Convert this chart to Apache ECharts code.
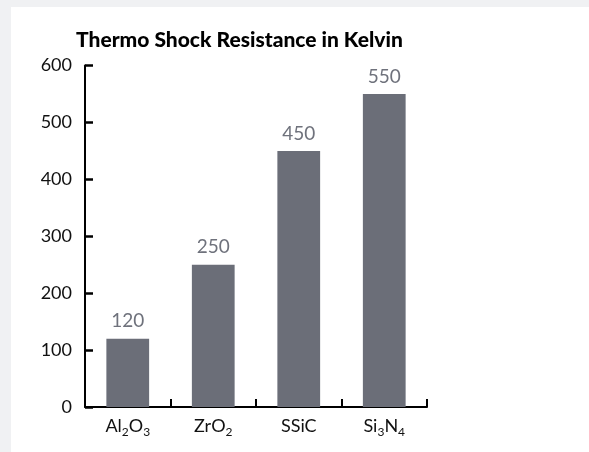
<!DOCTYPE html>
<html>
<head>
<meta charset="utf-8">
<script src="https://cdn.jsdelivr.net/npm/echarts@6/dist/echarts.min.js"></script>
<style>
  html, body { margin: 0; padding: 0; background: #f0f1f3; }
  #panel { position: absolute; left: 11px; top: 7px; width: 578px; height: 445px; background: #ffffff; }
  #chart { position: absolute; left: 0; top: 0; width: 589px; height: 452px; }
</style>
</head>
<body>
<div id="panel"></div>
<div id="chart"></div>
<script>
const titleText = 'Thermo Shock Resistance in Kelvin';
const categories = ['{n|Al}{s|2}{n|O}{s|3}', '{n|ZrO}{s|2}', '{n|SSiC}', '{n|Si}{s|3}{n|N}{s|4}'];
const values = [120, 250, 450, 550];
const yTicks = { min: 0, max: 600, interval: 100 };

const FONT = 'Lato';
const chart = echarts.init(document.getElementById('chart'), null, { renderer: 'canvas' });
chart.setOption({
  backgroundColor: 'transparent',
  animation: false,
  title: {
    text: titleText,
    left: 76,
    top: 30,
    padding: 0,
    textStyle: { fontFamily: FONT, fontWeight: 900, fontSize: 21, color: '#000' }
  },
  grid: { left: 85, right: 162, top: 65.5, bottom: 45, containLabel: false },
  xAxis: {
    type: 'category',
    data: categories,
    axisLine: { lineStyle: { color: '#000', width: 2 } },
    axisTick: { show: true, inside: true, length: 8, interval: 0, lineStyle: { color: '#000', width: 2 } },
    axisLabel: {
      interval: 0,
      margin: 10,
      color: '#111',
      rich: {
        n: { fontFamily: FONT, fontSize: 18, lineHeight: 21, verticalAlign: 'top', color: '#111' },
        s: { fontFamily: FONT, fontSize: 12, lineHeight: 14, verticalAlign: 'top', padding: [9, 0, 0, 0], color: '#111' }
      }
    }
  },
  yAxis: {
    type: 'value',
    min: yTicks.min, max: yTicks.max, interval: yTicks.interval,
    axisLine: { show: true, lineStyle: { color: '#000', width: 2 } },
    axisTick: { show: true, inside: true, length: 8, lineStyle: { color: '#000', width: 2.5 } },
    splitLine: { show: false },
    axisLabel: { margin: 13, fontFamily: FONT, fontSize: 18, color: '#111' }
  },
  series: [{
    type: 'bar',
    data: values,
    barCategoryGap: '50%',
    itemStyle: { color: '#6b6e78' },
    label: {
      show: true, position: 'top', distance: 8,
      fontFamily: FONT, fontSize: 19, color: '#6f727c'
    }
  }]
});
</script>
</body>
</html>
